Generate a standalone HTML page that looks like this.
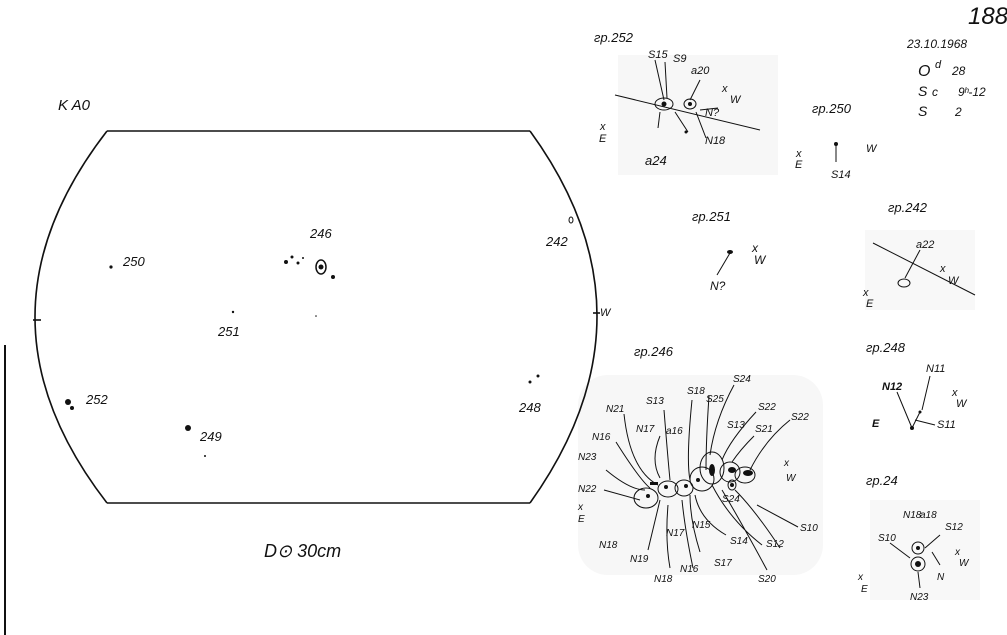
<!DOCTYPE html>
<html><head><meta charset="utf-8"><style>
html,body{margin:0;padding:0;background:#fff;width:1007px;height:635px;overflow:hidden}
svg{display:block}
text{font-family:"Liberation Sans",sans-serif;font-style:italic;fill:#111}
</style></head><body>
<svg width="1007" height="635" viewBox="0 0 1007 635" xmlns="http://www.w3.org/2000/svg">
<rect width="1007" height="635" fill="#fff"/>
<rect x="618" y="55" width="160" height="120" fill="#f7f7f7"/>
<rect x="578" y="375" width="245" height="200" rx="30" fill="#f7f7f7"/>
<rect x="865" y="230" width="110" height="80" fill="#f8f8f8"/>
<rect x="870" y="500" width="110" height="100" fill="#f8f8f8"/>
<g fill="none" stroke="#111" stroke-width="1.6">
<path d="M107 131 L530 131"/>
<path d="M107 503 L530 503"/>
<path d="M107 131 Q-37 317 107 503"/>
<path d="M530 131 Q664 315 530 503"/>
<path d="M33 320 L41 320"/>
<path d="M593 313 L600 313"/>
<path d="M5 345 L5 635" stroke-width="2"/>
</g>
<g font-size="13">
<text x="58" y="110" font-size="15">K A0</text>
<text x="123" y="266">250</text>
<text x="310" y="238">246</text>
<text x="546" y="246">242</text>
<text x="218" y="336">251</text>
<text x="600" y="316" font-size="11">W</text>
<text x="86" y="404">252</text>
<text x="200" y="441">249</text>
<text x="519" y="412">248</text>
<text x="264" y="557" font-size="18" font-style="normal">D⊙  30cm</text>
</g>
<g fill="#111">
<circle cx="111" cy="267" r="1.6"/>
<circle cx="233" cy="312" r="1.2"/>
<circle cx="286" cy="262" r="2"/><circle cx="292" cy="257" r="1.5"/><circle cx="298" cy="263" r="1.5"/><circle cx="303" cy="258" r="1"/>
<ellipse cx="321" cy="267" rx="5" ry="7" fill="none" stroke="#111" stroke-width="1.5"/>
<circle cx="321" cy="267" r="2.5"/><circle cx="333" cy="277" r="2"/>
<ellipse cx="571" cy="220" rx="2" ry="3" fill="none" stroke="#111"/>
<circle cx="68" cy="402" r="3"/><circle cx="72" cy="408" r="2"/>
<circle cx="188" cy="428" r="3"/>
<circle cx="530" cy="382" r="1.5"/><circle cx="538" cy="376" r="1.5"/>
<circle cx="205" cy="456" r="1"/><circle cx="316" cy="316" r="0.8"/>
</g>
<text x="968" y="24" font-size="24">188</text>
<g font-size="12">
<text x="907" y="48">23.10.1968</text>
<text x="918" y="76" font-size="16" font-style="normal">O</text><text x="935" y="68" font-size="11">d</text><text x="952" y="75">28</text>
<text x="918" y="96" font-size="14" font-style="normal">S</text><text x="932" y="96">c</text><text x="958" y="96">9ʰ-12</text>
<text x="918" y="116" font-size="14" font-style="normal">S</text><text x="955" y="116">2</text>
</g>
<g font-size="13">
<text x="594" y="42">гр.252</text>
<text x="812" y="113">гр.250</text>
<text x="692" y="221">гр.251</text>
<text x="888" y="212">гр.242</text>
<text x="634" y="356">гр.246</text>
<text x="866" y="352">гр.248</text>
<text x="866" y="485">гр.24</text>
</g>
<g stroke="#111" fill="none" stroke-width="1">
<path d="M615 95 L760 130"/>
<ellipse cx="664" cy="104" rx="9" ry="6"/><ellipse cx="690" cy="104" rx="6" ry="5"/>
<path d="M655 60 L664 100 M665 62 L667 98 M700 80 L690 100 M700 110 L718 108 M696 112 L706 138 M675 112 L688 132 M660 112 L658 128"/>
</g>
<g fill="#111"><circle cx="664" cy="104" r="2.5"/><circle cx="690" cy="104" r="2"/><circle cx="686" cy="132" r="1.5"/></g>
<g font-size="11">
<text x="648" y="58">S15</text><text x="673" y="62">S9</text><text x="691" y="74">a20</text>
<text x="722" y="92">x</text><text x="730" y="103">W</text><text x="705" y="116">N?</text><text x="705" y="144">N18</text>
<text x="600" y="130">x</text><text x="599" y="142">E</text><text x="645" y="165" font-size="13">a24</text>
</g>
<g font-size="11"><text x="796" y="157">x</text><text x="795" y="168">E</text><text x="866" y="152">W</text><text x="831" y="178">S14</text></g>
<path d="M836 144 L836 162" stroke="#111"/><circle cx="836" cy="144" r="2" fill="#111"/>
<path d="M730 253 L717 275" stroke="#111"/><ellipse cx="730" cy="252" rx="3" ry="2" fill="#111"/>
<g font-size="12"><text x="752" y="252">x</text><text x="754" y="264">W</text><text x="710" y="290">N?</text></g>
<path d="M873 243 L975 295" stroke="#111" fill="none"/><path d="M920 250 L905 278" stroke="#111"/>
<ellipse cx="904" cy="283" rx="6" ry="4" fill="none" stroke="#111"/>
<g font-size="11"><text x="916" y="248">a22</text><text x="940" y="272">x</text><text x="948" y="284">W</text><text x="863" y="296">x</text><text x="866" y="307">E</text></g>
<g stroke="#111" fill="none"><path d="M897 392 L912 428 L920 412 M930 376 L922 410 M915 420 L935 425"/></g>
<circle cx="912" cy="428" r="2" fill="#111"/><circle cx="920" cy="412" r="1.5" fill="#111"/>
<g font-size="11"><text x="882" y="390" font-weight="bold">N12</text><text x="926" y="372">N11</text><text x="952" y="396">x</text><text x="956" y="407">W</text><text x="872" y="427" font-weight="bold">E</text><text x="937" y="428">S11</text></g>
<g stroke="#111" fill="none"><circle cx="918" cy="548" r="6"/><circle cx="918" cy="564" r="7"/><path d="M890 543 L910 558 M940 535 L925 548 M932 552 L940 565 M918 572 L920 588"/></g>
<circle cx="918" cy="548" r="2" fill="#111"/><circle cx="918" cy="564" r="3" fill="#111"/>
<g font-size="10"><text x="903" y="518">N18</text><text x="920" y="518">a18</text><text x="945" y="530">S12</text><text x="878" y="541">S10</text><text x="955" y="555">x</text><text x="959" y="566">W</text><text x="937" y="580">N</text><text x="858" y="580">x</text><text x="861" y="592">E</text><text x="910" y="600">N23</text></g>
<g stroke="#111" fill="none" stroke-width="1">
<ellipse cx="646" cy="498" rx="12" ry="10"/><ellipse cx="668" cy="489" rx="10" ry="8"/><ellipse cx="684" cy="488" rx="9" ry="8"/>
<ellipse cx="702" cy="479" rx="12" ry="12"/><ellipse cx="712" cy="468" rx="12" ry="16"/><ellipse cx="730" cy="472" rx="10" ry="10"/>
<ellipse cx="745" cy="475" rx="10" ry="8"/><ellipse cx="732" cy="485" rx="4" ry="5"/>
<path d="M624 414 Q630 470 658 485 M616 442 Q640 480 650 488 M606 470 Q630 490 645 490 M604 490 L640 500 M660 436 Q650 460 660 478 M664 410 Q668 460 670 480 M692 400 Q686 460 690 480 M709 396 Q706 440 706 470 M734 385 Q715 420 710 455 M756 412 Q730 440 722 460 M754 436 Q740 450 732 462 M790 420 Q765 440 750 470 M648 550 L660 500 M670 568 Q665 540 668 505 M693 568 Q685 530 682 500 M700 552 Q690 520 690 495 M726 535 Q700 520 695 495 M762 545 Q730 520 712 485 M767 570 Q740 520 722 490 M780 548 Q755 510 735 490 M798 527 L757 505"/>
</g>
<g fill="#111">
<ellipse cx="712" cy="470" rx="3" ry="6"/><ellipse cx="732" cy="470" rx="4" ry="3"/><ellipse cx="748" cy="473" rx="5" ry="3"/>
<circle cx="648" cy="496" r="2"/><circle cx="666" cy="487" r="2"/><circle cx="686" cy="486" r="2"/><circle cx="698" cy="480" r="2"/>
<circle cx="732" cy="485" r="2"/><rect x="650" y="482" width="8" height="3"/>
</g>
<g font-size="10">
<text x="606" y="412">N21</text><text x="646" y="404">S13</text><text x="687" y="394">S18</text><text x="706" y="402">S25</text><text x="733" y="382">S24</text>
<text x="592" y="440">N16</text><text x="636" y="432">N17</text><text x="666" y="434">a16</text><text x="727" y="428">S13</text><text x="758" y="410">S22</text><text x="755" y="432">S21</text><text x="791" y="420">S22</text>
<text x="578" y="460">N23</text><text x="578" y="492">N22</text><text x="784" y="466">x</text><text x="786" y="481">W</text>
<text x="722" y="502">S24</text><text x="578" y="510">x</text><text x="578" y="522">E</text>
<text x="666" y="536">N17</text><text x="692" y="528">N15</text><text x="800" y="531">S10</text>
<text x="599" y="548">N18</text><text x="730" y="544">S14</text><text x="766" y="547">S12</text>
<text x="630" y="562">N19</text><text x="680" y="572">N16</text><text x="714" y="566">S17</text>
<text x="654" y="582">N18</text><text x="758" y="582">S20</text>
</g>
</svg>
</body></html>
